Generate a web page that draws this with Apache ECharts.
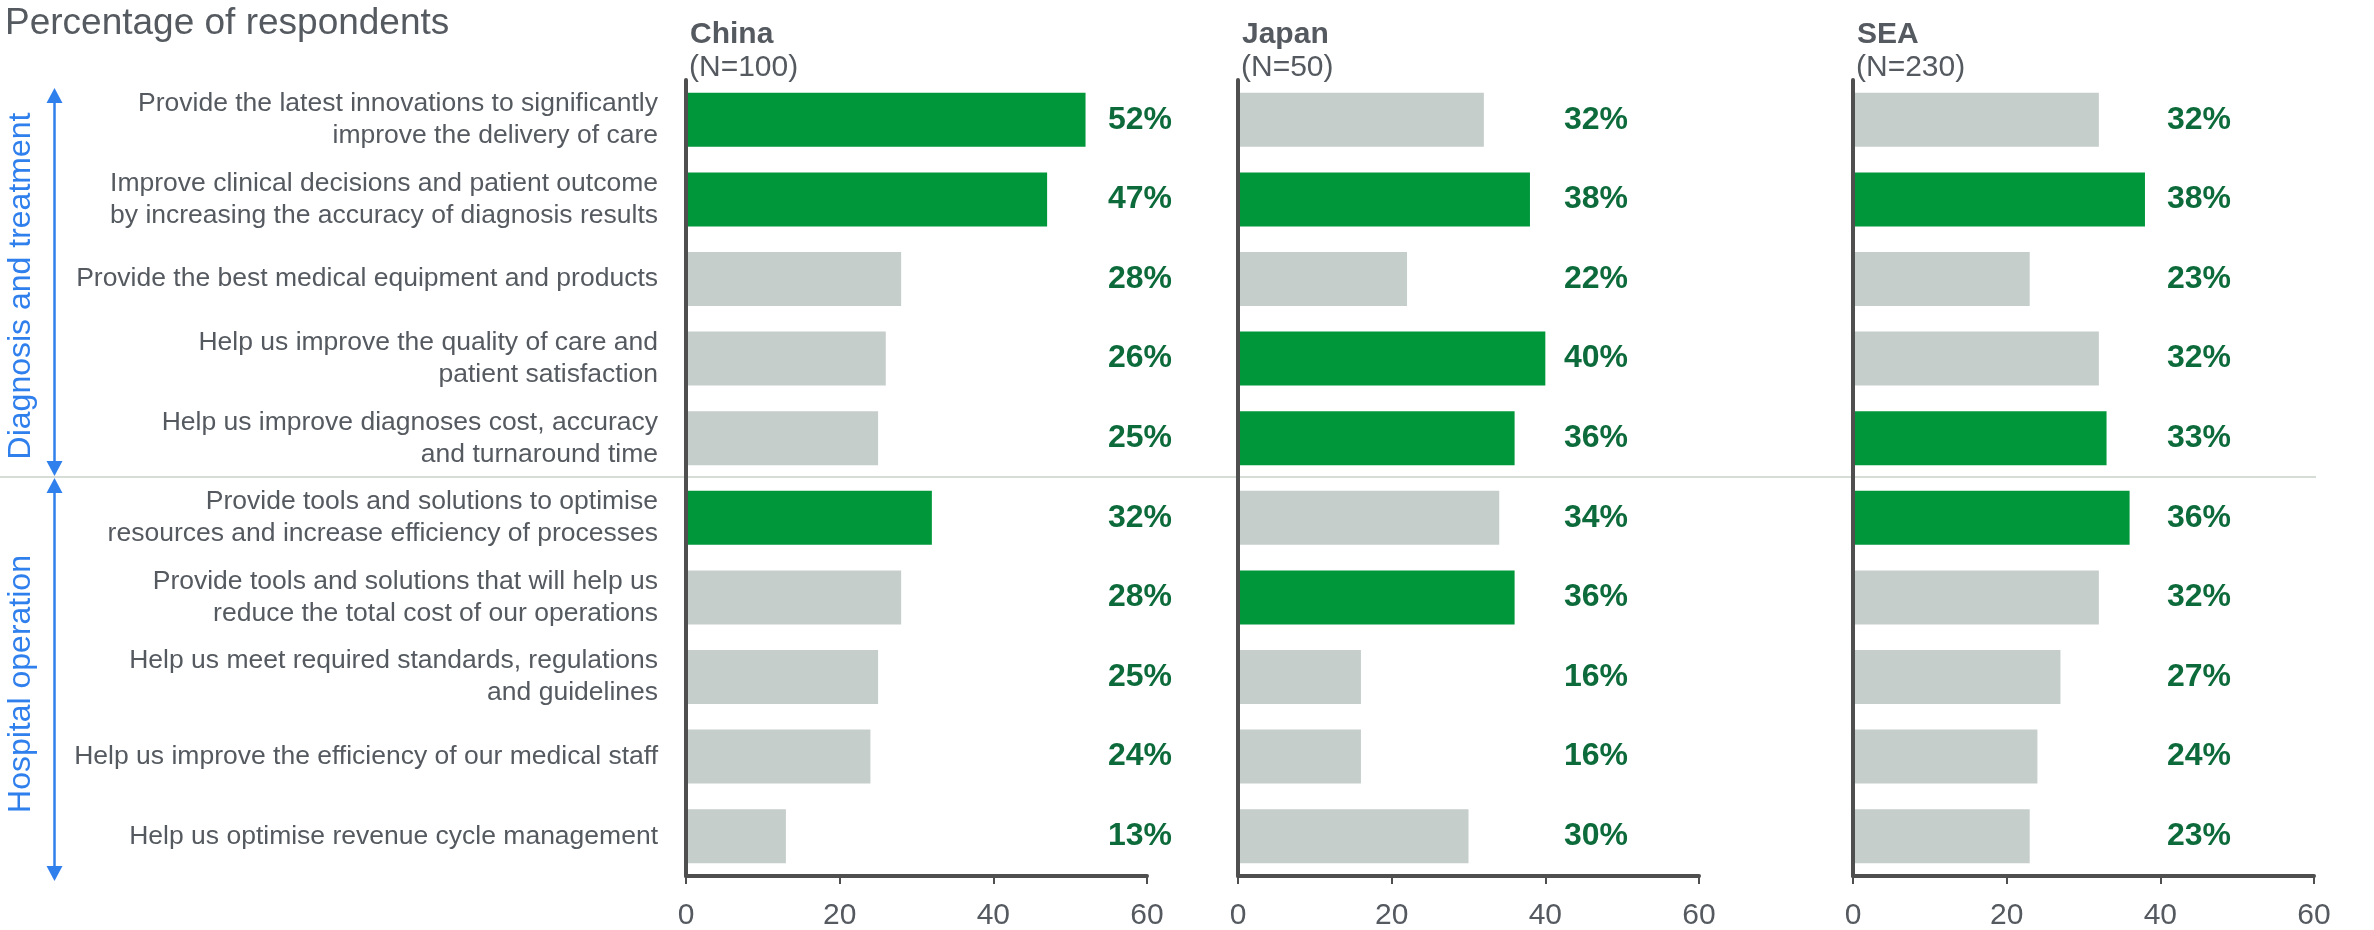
<!DOCTYPE html>
<html>
<head>
<meta charset="utf-8">
<script src="https://cdn.jsdelivr.net/npm/echarts@6/dist/echarts.min.js"></script>
<style>
  html, body { margin: 0; padding: 0; background: #fff; }
  #main { width: 2374px; height: 930px; }
</style>
</head>
<body>
<div id="main"></div>
<script>
// categories (top to bottom)
var categories = [
  'Provide the latest innovations to significantly\nimprove the delivery of care',
  'Improve clinical decisions and patient outcome\nby increasing the accuracy of diagnosis results',
  'Provide the best medical equipment and products',
  'Help us improve the quality of care and\npatient satisfaction',
  'Help us improve diagnoses cost, accuracy\nand turnaround time',
  'Provide tools and solutions to optimise\nresources and increase efficiency of processes',
  'Provide tools and solutions that will help us\nreduce the total cost of our operations',
  'Help us meet required standards, regulations\nand guidelines',
  'Help us improve the efficiency of our medical staff',
  'Help us optimise revenue cycle management'
];

var regions = ['China', 'Japan', 'SEA'];
var sampleSizes = ['(N=100)', '(N=50)', '(N=230)'];

var chinaValues = [52, 47, 28, 26, 25, 32, 28, 25, 24, 13];
var japanValues = [32, 38, 22, 40, 36, 34, 36, 16, 16, 30];
var seaValues   = [32, 38, 23, 32, 33, 36, 32, 27, 24, 23];

// 1 = highlighted (green) bar
var chinaHighlight = [1, 1, 0, 0, 0, 1, 0, 0, 0, 0];
var japanHighlight = [0, 1, 0, 1, 1, 0, 1, 0, 0, 0];
var seaHighlight   = [0, 1, 0, 0, 1, 1, 0, 0, 0, 0];

var groupNames = ['Diagnosis and treatment', 'Hospital operation'];

var xMin = 0, xMax = 60, xInterval = 20;

// layout
var gridLefts = [686, 1238, 1853];
var gridWidth = 461;
var gridTop = 80;
var gridHeight = 796;
var labelOffsets = [454, 358, 346];

var GREEN = '#00963a';
var GRAY = '#c5cecb';
var LABEL_GREEN = '#0d6b3b';
var TEXT = '#555a60';
var AXIS = '#4f4f4f';
var BLUE = '#2f7fed';
var FONT = '"Liberation Sans", Arial, sans-serif';

var allValues = [chinaValues, japanValues, seaValues];
var allHighlight = [chinaHighlight, japanHighlight, seaHighlight];

var grids = [], xAxes = [], yAxes = [], series = [];
for (var i = 0; i < regions.length; i++) {
  grids.push({left: gridLefts[i], top: gridTop, width: gridWidth, height: gridHeight, outerBoundsMode: 'none'});
  xAxes.push({
    gridIndex: i, type: 'value', min: xMin, max: xMax, interval: xInterval,
    axisLine: {show: true, lineStyle: {color: AXIS, width: 4}},
    axisTick: {show: true, length: 8, lineStyle: {color: AXIS, width: 2}},
    splitLine: {show: false},
    axisLabel: {fontSize: 30, color: TEXT, margin: 25, fontFamily: FONT}
  });
  yAxes.push({
    gridIndex: i, type: 'category', data: categories, inverse: true, z: 5,
    axisLine: {show: true, lineStyle: {color: AXIS, width: 4}},
    axisTick: {show: false},
    axisLabel: i === 0 ? {
      show: true, fontSize: 26.5, lineHeight: 32, color: TEXT, margin: 28,
      align: 'right', fontFamily: FONT
    } : {show: false}
  });
  var hl = allHighlight[i];
  series.push({
    type: 'bar', xAxisIndex: i, yAxisIndex: i, barWidth: 54, silent: true,
    data: allValues[i].map(function (v, k) {
      return {value: v, itemStyle: {color: hl[k] ? GREEN : GRAY}};
    }),
    label: {
      show: true, position: [labelOffsets[i], '50%'], align: 'center', verticalAlign: 'middle',
      formatter: '{c}%', fontSize: 32, fontWeight: 'bold', color: LABEL_GREEN, fontFamily: FONT
    }
  });
}

var graphics = [
  {type: 'text', x: 5, y: 5, style: {text: 'Percentage of respondents', fontSize: 37, fontFamily: FONT, fill: TEXT, align: 'left', verticalAlign: 'top'}},
  {type: 'line', shape: {x1: 0, y1: 477, x2: 2316, y2: 477}, style: {stroke: '#d6dcd6', lineWidth: 2}, z: 1},
  // brackets
  {type: 'line', shape: {x1: 54.5, y1: 100, x2: 54.5, y2: 464}, style: {stroke: BLUE, lineWidth: 2.5}},
  {type: 'polygon', shape: {points: [[54.5, 88], [46.5, 103], [62.5, 103]]}, style: {fill: BLUE}},
  {type: 'polygon', shape: {points: [[54.5, 476], [46.5, 461], [62.5, 461]]}, style: {fill: BLUE}},
  {type: 'line', shape: {x1: 54.5, y1: 490, x2: 54.5, y2: 869}, style: {stroke: BLUE, lineWidth: 2.5}},
  {type: 'polygon', shape: {points: [[54.5, 478], [46.5, 493], [62.5, 493]]}, style: {fill: BLUE}},
  {type: 'polygon', shape: {points: [[54.5, 881], [46.5, 866], [62.5, 866]]}, style: {fill: BLUE}},
  {type: 'text', x: 21, y: 286, rotation: Math.PI / 2, style: {text: groupNames[0], fontSize: 32, fontFamily: FONT, fill: BLUE, align: 'center', verticalAlign: 'middle'}},
  {type: 'text', x: 21, y: 684, rotation: Math.PI / 2, style: {text: groupNames[1], fontSize: 32, fontFamily: FONT, fill: BLUE, align: 'center', verticalAlign: 'middle'}}
];
for (var j = 0; j < regions.length; j++) {
  graphics.push({type: 'text', x: gridLefts[j] + 4, y: 20, style: {text: regions[j], fontSize: 30, fontWeight: 'bold', fontFamily: FONT, fill: TEXT, align: 'left', verticalAlign: 'top'}});
  graphics.push({type: 'text', x: gridLefts[j] + 3, y: 53, style: {text: sampleSizes[j], fontSize: 30, fontFamily: FONT, fill: TEXT, align: 'left', verticalAlign: 'top'}});
}

var myChart = echarts.init(document.getElementById('main'));
myChart.setOption({
  animation: false,
  textStyle: {fontFamily: FONT},
  grid: grids,
  xAxis: xAxes,
  yAxis: yAxes,
  series: series,
  graphic: graphics
});
</script>
</body>
</html>
